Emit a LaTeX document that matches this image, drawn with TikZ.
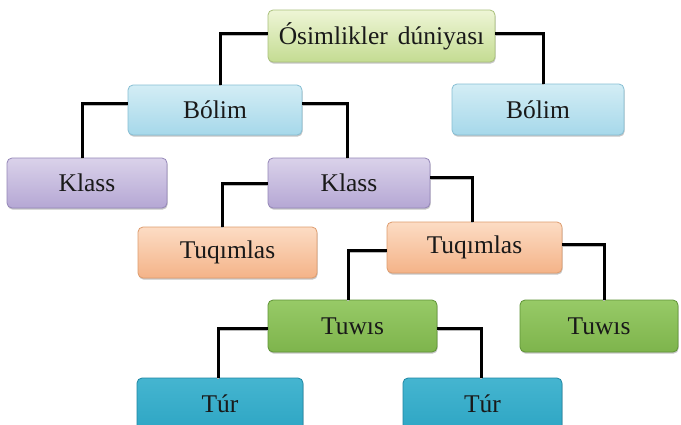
\documentclass[tikz,border=0pt]{standalone}
\usepackage{fontspec}
\setmainfont{Liberation Serif}
\usetikzlibrary{shadows}
\definecolor{gA}{HTML}{EEF5D6}\definecolor{gB}{HTML}{C4DC92}\definecolor{gC}{HTML}{A9C07A}
\definecolor{bA}{HTML}{D3EDF5}\definecolor{bB}{HTML}{A6D8EA}\definecolor{bC}{HTML}{86BED3}
\definecolor{pA}{HTML}{DAD2EA}\definecolor{pB}{HTML}{B5A7D4}\definecolor{pC}{HTML}{9486B8}
\definecolor{oA}{HTML}{FCDCC4}\definecolor{oB}{HTML}{F4B388}\definecolor{oC}{HTML}{DE9C6E}
\definecolor{wA}{HTML}{97CA67}\definecolor{wB}{HTML}{7EB44C}\definecolor{wC}{HTML}{5F9436}
\definecolor{tA}{HTML}{45B5D0}\definecolor{tB}{HTML}{2EA6C4}\definecolor{tC}{HTML}{1F86A3}
\tikzset{
  box/.style={rounded corners=5pt, line width=0.8pt, inner sep=0pt,
    font=\fontsize{25.5}{30}\selectfont, text=black!90,
    drop shadow={shadow xshift=0.6pt, shadow yshift=-1.6pt, opacity=0.45}},
  topbox/.style={box, top color=gA, bottom color=gB, draw=gC},
  divbox/.style={box, top color=bA, bottom color=bB, draw=bC},
  clsbox/.style={box, top color=pA, bottom color=pB, draw=pC},
  fambox/.style={box, top color=oA, bottom color=oB, draw=oC},
  genbox/.style={box, top color=wA, bottom color=wB, draw=wC},
  spbox/.style={box, top color=tA, bottom color=tB, draw=tC},
  link/.style={line width=3pt, black, line join=miter,
    preaction={draw=gray!55, line width=2.5pt, transform canvas={yshift=-1.8pt}}}
}
\begin{document}
\begin{tikzpicture}[x=1pt,y=-1pt]
\clip (0,0) rectangle (681,424);
\fill[white] (0,0) rectangle (681,424);
\node[topbox, minimum width=227pt, minimum height=52pt] (top) at (381.5,36) {Ósimlikler\hspace{10pt}dúniyası};
\node[divbox, minimum width=174pt, minimum height=50pt] (b1) at (215,110) {Bólim};
\node[divbox, minimum width=172pt, minimum height=51pt] (b2) at (538,109.5) {Bólim};
\node[clsbox, minimum width=160pt, minimum height=50pt] (k1) at (87,183) {Klass};
\node[clsbox, minimum width=162pt, minimum height=50pt] (k2) at (349,183) {Klass};
\node[fambox, minimum width=179pt, minimum height=51pt] (t1) at (227.5,252.5) {Tuqımlas};
\node[fambox, minimum width=175pt, minimum height=51pt] (t2) at (474.5,247.5) {Tuqımlas};
\node[genbox, minimum width=169pt, minimum height=52pt] (w1) at (352.5,326) {Tuwıs};
\node[genbox, minimum width=158pt, minimum height=52pt] (w2) at (599,326) {Tuwıs};
\node[spbox, minimum width=166pt, minimum height=52pt] (r1) at (220,404) {Túr};
\node[spbox, minimum width=159pt, minimum height=52pt] (r2) at (482.5,404) {Túr};
\draw[link] ([yshift=3pt]top.west) -| ([xshift=5pt]b1.north);
\draw[link] ([yshift=3pt]top.east) -| ([xshift=5pt]b2.north);
\draw[link] ([yshift=7pt]b1.west) -| ([xshift=-5pt]k1.north);
\draw[link] ([yshift=7pt]b1.east) -| ([xshift=-2pt]k2.north);
\draw[link] (k2.west) -| ([xshift=-5.5pt]t1.north);
\draw[link] ([yshift=6pt]k2.east) -| ([xshift=-2.5pt]t2.north);
\draw[link] ([yshift=-2.5pt]t2.west) -| ([xshift=-4.5pt]w1.north);
\draw[link] ([yshift=3.5pt]t2.east) -| ([xshift=5pt]w2.north);
\draw[link] ([yshift=-2pt]w1.west) -| ([xshift=-2pt]r1.north);
\draw[link] ([yshift=-2pt]w1.east) -| ([xshift=-1.5pt]r2.north);
\end{tikzpicture}
\end{document}
